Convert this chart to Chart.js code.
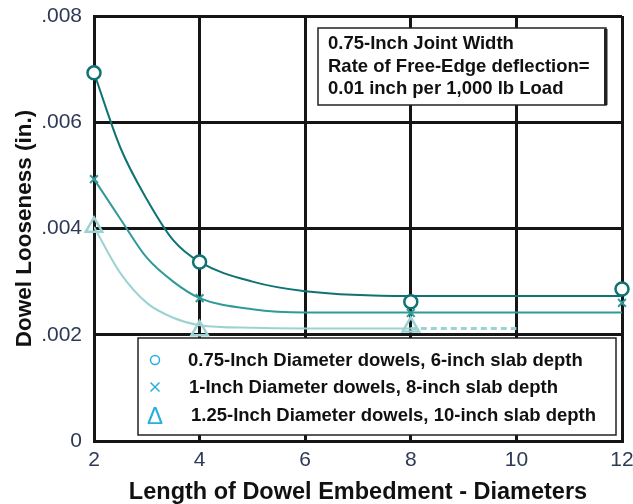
<!DOCTYPE html>
<html>
<head>
<meta charset="utf-8">
<script src="https://cdn.jsdelivr.net/npm/chart.js@4.4.1/dist/chart.umd.min.js"></script>
<style>
  body { margin: 0; background: #fff; }
  canvas { display: block; }
</style>
</head>
<body>
<canvas id="looseness-chart" width="633" height="504"></canvas>
<script>
// measured points (embedment length in diameters)
const embedment = [2, 4, 8, 12];
const loose075 = [0.00693, 0.00337, 0.00262, 0.00286];
const loose100 = [0.00493, 0.00269, 0.00241, 0.00260];
const loose125 = [0.00403, 0.00208, 0.00215];

// fitted curves read along their length
const curveX = [2, 2.5, 3, 3.5, 4, 5, 6, 8, 10, 12];
const curve075 = [0.00693, 0.00552, 0.00455, 0.00378, 0.00337, 0.00300, 0.00282, 0.00273, 0.00273, 0.00273];
const curve100 = [0.00493, 0.00418, 0.00345, 0.00300, 0.00269, 0.00248, 0.00242, 0.00242, 0.00242, 0.00242];
const curveX125 = [2, 2.5, 3, 3.5, 4, 5, 6, 8];
const curve125 = [0.00403, 0.00316, 0.00260, 0.00232, 0.00218, 0.00213, 0.00212, 0.00212];
const extX125 = [8, 10];
const ext125 = [0.00212, 0.00212];

const noteLines = ['0.75-Inch Joint Width', 'Rate of Free-Edge deflection=', '0.01 inch per 1,000 lb Load'];
const legendLabels = [
    '0.75-Inch Diameter dowels, 6-inch slab depth',
    '1-Inch Diameter dowels, 8-inch slab depth',
    '1.25-Inch Diameter dowels, 10-inch slab depth'
];

const dark = '#0f7373';
const mid = '#2f9a9a';
const light = '#9dd2d2';
const legendBlue = '#2aaede';
const tickColor = '#2d3a56';
const font = '"Liberation Sans", Arial, sans-serif';

const pts = (xs, ys) => ys.map((y, i) => ({ x: xs[i], y: y }));

// note box and legend box drawn over the grid
const boxes = {
    id: 'boxes',
    afterDatasetsDraw(chart) {
        const c = chart.ctx;
        c.save();

        // note in the upper right
        c.fillStyle = '#fff';
        c.fillRect(318, 28, 288, 77);
        c.strokeStyle = '#222';
        c.lineWidth = 1.5;
        c.strokeRect(318, 28, 288, 77);
        c.fillStyle = '#222';
        c.fillRect(604, 29, 3.5, 76);
        c.fillStyle = '#111';
        c.font = 'bold 18.5px ' + font;
        c.textBaseline = 'middle';
        noteLines.forEach((t, i) => c.fillText(t, 328, 44 + i * 22.5));

        // legend at the bottom
        c.fillStyle = '#fff';
        c.fillRect(138, 338, 478, 97);
        c.strokeStyle = '#222';
        c.lineWidth = 1.5;
        c.strokeRect(138, 338, 478, 97);

        c.strokeStyle = legendBlue;
        c.lineWidth = 1.5;
        c.beginPath();
        c.arc(155, 360, 4.5, 0, Math.PI * 2);
        c.stroke();
        c.beginPath();
        c.moveTo(150.5, 382.5); c.lineTo(159.5, 391.5);
        c.moveTo(159.5, 382.5); c.lineTo(150.5, 391.5);
        c.stroke();
        c.fillStyle = legendBlue;
        c.font = '24px ' + font;
        c.textAlign = 'center';
        c.fillText('\u0394', 155, 417);

        c.textAlign = 'left';
        c.fillStyle = '#111';
        c.font = 'bold 18.5px ' + font;
        c.fillText(legendLabels[0], 188, 361);
        c.fillText(legendLabels[1], 189, 388);
        c.fillText(legendLabels[2], 191, 416);
        c.restore();
    }
};

var ctx = document.getElementById('looseness-chart');

var chart = new Chart(ctx, {
    type: 'line',
    data: {
        datasets: [
            {
                data: pts(embedment, loose075),
                showLine: false,
                pointStyle: 'circle',
                pointRadius: 6.5,
                pointBorderWidth: 2.5,
                pointBorderColor: dark,
                pointBackgroundColor: '#fff',
                clip: false
            },
            {
                data: pts(embedment, loose100),
                showLine: false,
                pointStyle: 'crossRot',
                pointRadius: 5.5,
                pointBorderWidth: 2,
                pointBorderColor: mid,
                clip: false
            },
            {
                data: pts(embedment, loose125),
                showLine: false,
                pointStyle: 'triangle',
                pointRadius: 9.5,
                pointBorderWidth: 2.5,
                pointBorderColor: light,
                pointBackgroundColor: 'rgba(255,255,255,0)',
                clip: false
            },
            {
                data: pts(curveX, curve075),
                borderColor: dark,
                borderWidth: 2,
                pointRadius: 0,
                cubicInterpolationMode: 'monotone'
            },
            {
                data: pts(curveX, curve100),
                borderColor: mid,
                borderWidth: 2,
                pointRadius: 0,
                cubicInterpolationMode: 'monotone'
            },
            {
                data: pts(curveX125, curve125),
                borderColor: light,
                borderWidth: 2,
                pointRadius: 0,
                cubicInterpolationMode: 'monotone'
            },
            {
                data: pts(extX125, ext125),
                borderColor: light,
                borderWidth: 3,
                borderDash: [6, 4],
                pointRadius: 0
            }
        ]
    },
    options: {
        responsive: false,
        animation: false,
        layout: {
            autoPadding: false,
            padding: { top: 16, right: 11, left: 0, bottom: 0 }
        },
        plugins: {
            legend: { display: false },
            tooltip: { enabled: false }
        },
        scales: {
            x: {
                type: 'linear',
                min: 2,
                max: 12,
                // fixed axis band; edge labels may overhang
                afterFit: (s) => {
                    s.height = 63;
                    s.paddingLeft = 0;
                    s.paddingRight = 0;
                },
                grid: { color: '#151515', lineWidth: 3, drawTicks: false },
                border: { color: '#151515', width: 3 },
                ticks: {
                    stepSize: 2,
                    padding: 7,
                    color: tickColor,
                    font: { family: font, size: 21 }
                },
                title: {
                    display: true,
                    text: 'Length of Dowel Embedment - Diameters',
                    color: '#111',
                    padding: { top: 0, bottom: 0 },
                    font: { family: font, size: 23.5, weight: 'bold', lineHeight: 1 }
                }
            },
            y: {
                min: 0,
                max: 0.008,
                afterFit: (s) => {
                    s.width = 94;
                    s.paddingTop = 0;
                    s.paddingBottom = 0;
                },
                grid: { color: '#151515', lineWidth: 3, drawTicks: false },
                border: { color: '#151515', width: 3 },
                ticks: {
                    stepSize: 0.002,
                    padding: 12,
                    color: tickColor,
                    font: { family: font, size: 21 },
                    callback: (v) => v === 0 ? '0' : v.toFixed(3).replace(/^0/, '')
                },
                title: {
                    display: true,
                    text: 'Dowel Looseness (in.)',
                    color: '#111',
                    padding: { top: 11.5, bottom: 0 },
                    font: { family: font, size: 22.5, weight: 'bold', lineHeight: 1.2 }
                }
            }
        }
    },
    plugins: [boxes]
});
</script>
</body>
</html>
